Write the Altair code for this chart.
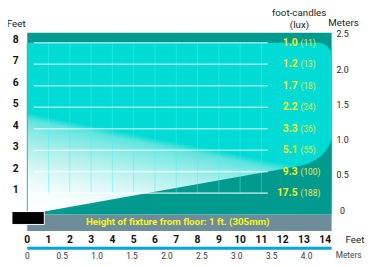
import altair as alt
import pandas as pd

# ---------------- data ----------------
FEET_TICKS = list(range(0, 15))
METER_TICKS = [0, 0.5, 1.0, 1.5, 2.0, 2.5, 3.0, 3.5, 4.0]
METER_LABELS = ["0", "0.5", "1.0", "1.5", "2.0", "2.5", "3.0", "3.5", "4.0"]
RIGHT_METERS = [0, 0.5, 1.0, 1.5, 2.0, 2.5]
RIGHT_METER_LABELS = ["0", "0.5", "1.0", "1.5", "2.0", "2.5"]
HEIGHTS = [8, 7, 6, 5, 4, 3, 2, 1]
FOOT_CANDLES = ["1.0", "1.2", "1.7", "2.2", "3.3", "5.1", "9.3", "17.5"]
LUX = ["(11)", "(13)", "(18)", "(24)", "(36)", "(55)", "(100)", "(188)"]
GRID_X = list(range(1, 12))

# beam outline (feet)
BEAM_X = [0, 13.66, 13.83, 13.98, 14.11, 14.21, 14.28, 14.3]
BEAM_TOP = [8.0, 8.0, 7.98, 7.92, 7.82, 7.70, 7.55, 7.4]
WEDGE_X = [0.8, 12.84, 13.2, 13.5, 13.8, 14.03, 14.2, 14.3]
WEDGE_TOP = [0.14, 2.27, 2.38, 2.53, 2.72, 2.98, 3.25, 3.5]
PANEL = {"x": 0, "x2": 14.3, "y": 0, "y2": 8.47}
BAND = {"x": 0, "x2": 14.3, "y": -0.77, "y2": 0}
FIXTURE = {"x": -0.72, "x2": 0.8, "y": -0.46, "y2": 0.14}
FT_PER_M = 3.28084

# ---------------- scales ----------------
X0, SX = 27.7, 21.76
Y0, SY = 216.3, 21.95
W, H = 366, 259
xs = alt.Scale(domain=[(8 - X0) / SX, (8 + W - X0) / SX], nice=False, zero=False)
ys = alt.Scale(domain=[(Y0 - 8 - H) / SY, (Y0 - 8) / SY], nice=False, zero=False)


def X(f):
    return alt.X(f, type="quantitative", scale=xs, axis=None)


def Y(f):
    return alt.Y(f, type="quantitative", scale=ys, axis=None)


FONT = "Roboto"
TEAL = "#009b8e"
CYAN = "#00dcd5"
YELLOW = "#f6f31c"

panel = alt.Chart(pd.DataFrame([PANEL])).mark_rect(color=TEAL).encode(
    x=X("x"), x2="x2", y=Y("y"), y2="y2")
band = alt.Chart(pd.DataFrame([BAND])).mark_rect(color="#6d8d9a").encode(
    x=X("x"), x2="x2", y=Y("y"), y2="y2")

grad = alt.Gradient(
    gradient="linear",
    stops=[
        alt.GradientStop(color="#ffffff", offset=0),
        alt.GradientStop(color="#f7fefd", offset=0.10),
        alt.GradientStop(color="#dcf8f6", offset=0.19),
        alt.GradientStop(color="#aef0ec", offset=0.29),
        alt.GradientStop(color="#80e9e4", offset=0.37),
        alt.GradientStop(color="#5ce4de", offset=0.41),
        alt.GradientStop(color=CYAN, offset=0.44),
        alt.GradientStop(color=CYAN, offset=1),
    ],
    x1=0, y1=1, x2=0.42, y2=-0.2,
)
beam = alt.Chart(pd.DataFrame({"x": BEAM_X, "top": BEAM_TOP, "base": 0})).mark_area(
    color=grad, interpolate="linear").encode(x=X("x"), y=Y("top"), y2="base")
wedge = alt.Chart(pd.DataFrame({"x": WEDGE_X, "top": WEDGE_TOP, "base": 0})).mark_area(
    color=TEAL, interpolate="linear").encode(x=X("x"), y=Y("top"), y2="base")

vgrid = alt.Chart(pd.DataFrame({"x": GRID_X, "y": 1, "y2": 8})).mark_rule(
    color="#40f4f2", opacity=0.45, strokeWidth=1).encode(x=X("x"), y=Y("y"), y2="y2")
hgrid = alt.Chart(pd.DataFrame({"y": HEIGHTS, "x": 0.3, "x2": 11.3})).mark_rule(
    color="#ffffff", opacity=0.6, strokeWidth=1.6).encode(x=X("x"), x2="x2", y=Y("y"))
leftline = alt.Chart(pd.DataFrame({"x": [0], "y": [0], "y2": [8]})).mark_rule(
    color="#3db3aa", strokeWidth=1).encode(x=X("x"), y=Y("y"), y2="y2")
fixture = alt.Chart(pd.DataFrame([FIXTURE])).mark_rect(
    color="#000000", stroke="#ffffff", strokeWidth=1).encode(
    x=X("x"), x2="x2", y=Y("y"), y2="y2")
blue = alt.Chart(pd.DataFrame({"x": [0], "x2": [14.3], "y": [-1.57]})).mark_rule(
    color="#00a4e0", strokeWidth=3).encode(x=X("x"), x2="x2", y=Y("y"))


def text(df, size, color="#111111", weight="normal", align="center", dy=0, font=FONT):
    return alt.Chart(df).mark_text(
        fontSize=size, color=color, fontWeight=weight, align=align,
        baseline="middle", dy=dy, font=font).encode(x=X("x"), y=Y("y"), text="t:N")


left_lbl = text(pd.DataFrame({"x": -0.54, "y": HEIGHTS, "t": [str(h) for h in HEIGHTS]}),
                10.5, weight="bold", dy=-3)
feet_top = text(pd.DataFrame({"x": [-0.52], "y": [8.87], "t": ["Feet"]}), 10, color="#222")
bottom_ft = text(pd.DataFrame({"x": FEET_TICKS, "y": -1.2, "t": [str(v) for v in FEET_TICKS]}),
                 10.5, weight="bold")
bottom_m = text(pd.DataFrame({"x": [m * FT_PER_M for m in METER_TICKS], "y": -1.93,
                              "t": METER_LABELS}), 8.5, color="#333")
feet_br = text(pd.DataFrame({"x": [14.95], "y": [-1.2], "t": ["Feet"]}), 10,
               color="#222", align="left")
meters_br = text(pd.DataFrame({"x": [14.49], "y": [-1.89], "t": ["Meters"]}), 8.5,
                 color="#444", align="left")
right_m = text(pd.DataFrame({"x": 14.81, "y": [m * FT_PER_M for m in RIGHT_METERS],
                             "t": RIGHT_METER_LABELS}), 9, color="#222", dy=-4)
meters_tr = text(pd.DataFrame({"x": [14.86], "y": [8.9], "t": ["Meters"]}), 10, color="#222")
fc_head = text(pd.DataFrame({"x": [12.77, 12.79], "y": [9.4, 8.85],
                             "t": ["foot-candles", "(lux)"]}), 10, color="#222")
fc_lbl = text(pd.DataFrame({"x": 12.70, "y": HEIGHTS, "t": FOOT_CANDLES}), 10.5,
              color=YELLOW, weight="bold", align="right")
lux_lbl = text(pd.DataFrame({"x": 12.84, "y": HEIGHTS, "t": LUX}), 8.5,
               color="#eaea4a", align="left")
band_lbl = text(pd.DataFrame({"x": [7.07], "y": [-0.35],
                              "t": ["Height of fixture from floor: 1 ft. (305mm)"]}),
                10, color=YELLOW, weight="bold")

chart = alt.layer(
    panel, band, beam, wedge, vgrid, hgrid, leftline, fixture, blue,
    left_lbl, feet_top, bottom_ft, bottom_m, feet_br, meters_br, right_m, meters_tr,
    fc_head, fc_lbl, lux_lbl, band_lbl,
).properties(
    width=W, height=H, autosize=alt.AutoSizeParams(type="none"), padding=0,
    background="#ffffff",
).configure_view(stroke=None)

chart.save("out.html", embed_options={"renderer": "svg", "actions": False})
